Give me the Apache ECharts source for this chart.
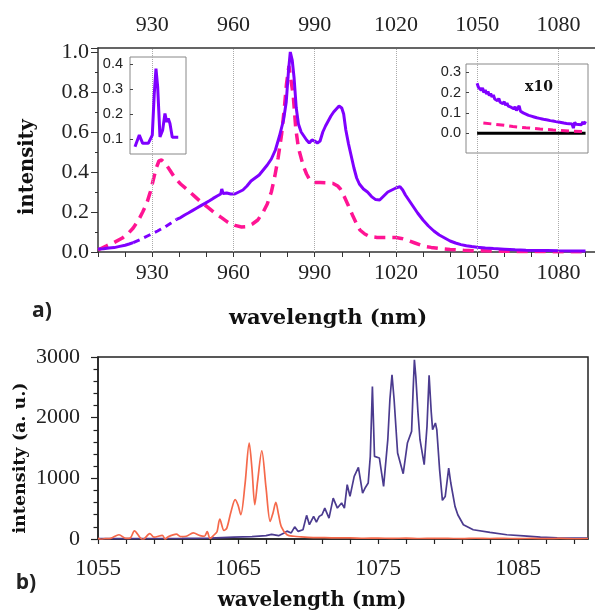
<!DOCTYPE html>
<html><head><meta charset="utf-8">
<script src="https://cdn.jsdelivr.net/npm/echarts/dist/echarts.min.js"></script>
<style>html,body{margin:0;padding:0;background:#fff}#c{width:595px;height:611px}</style>
</head><body><div id="c"></div>
<script>
// ---------- panel a) main spectra (wavelength nm, normalized intensity) ----------
const purpleLow = [[910,0.015],[912,0.016],[914,0.02],[916,0.022],[918,0.028],[920,0.034],[921.5,0.04],[923,0.047]];
const purpleGap = [[923,0.047],[926,0.065],[929,0.085],[932,0.105],[935,0.128],[937,0.145],[939,0.163]];
const purpleMain = [[939,0.163],[940.5,0.172],[942,0.185],[943.5,0.196],[945,0.208],[946.5,0.22],[948,0.232],[949.5,0.243],[951,0.255],[952.5,0.268],[954,0.28],[955.3,0.29],[955.7,0.315],[956.2,0.292],[957.5,0.295],[959,0.29],[960.5,0.29],[962,0.3],[963.5,0.31],[965,0.33],[966.5,0.355],[968,0.37],[969.5,0.385],[971,0.41],[972.5,0.435],[974,0.465],[975.5,0.51],[977,0.58],[978.5,0.66],[979.5,0.75],[980.3,0.9],[981,1.0],[981.7,0.96],[982.4,0.87],[983.2,0.72],[984,0.64],[985,0.6],[986,0.58],[987,0.56],[988,0.545],[989,0.56],[990,0.555],[991,0.545],[992,0.555],[993,0.6],[994,0.63],[995,0.655],[996,0.68],[997,0.7],[998,0.715],[999,0.73],[1000,0.72],[1000.7,0.69],[1001.5,0.61],[1002.5,0.54],[1003.5,0.48],[1004.5,0.42],[1005.5,0.37],[1006.5,0.34],[1008,0.315],[1009.5,0.3],[1011,0.277],[1012.5,0.262],[1014,0.26],[1015.5,0.28],[1017,0.3],[1018.5,0.31],[1020,0.32],[1021.5,0.327],[1022.5,0.31],[1023.5,0.285],[1025,0.255],[1026.5,0.225],[1028,0.195],[1030,0.16],[1032,0.13],[1034,0.105],[1036,0.085],[1038,0.07],[1040,0.055],[1042,0.045],[1044,0.037],[1046,0.031],[1048,0.027],[1050,0.024],[1053,0.02],[1056,0.017],[1060,0.014],[1064,0.011],[1068,0.009],[1072,0.008],[1076,0.007],[1080,0.006],[1085,0.005],[1090,0.005]];
const pinkMain = [[910,0.01],[913,0.03],[916,0.048],[919,0.07],[921.2,0.093],[923,0.12],[925,0.16],[926.5,0.2],[928,0.243],[929.3,0.3],[930.4,0.36],[931.5,0.42],[932.5,0.455],[933.5,0.46],[934.7,0.445],[936.5,0.41],[938.4,0.37],[940.5,0.34],[942.7,0.315],[945.8,0.277],[948,0.25],[950.7,0.222],[953,0.196],[955.6,0.172],[958,0.148],[960.6,0.133],[963,0.125],[965,0.127],[967,0.14],[969,0.16],[971,0.2],[972.5,0.24],[974,0.3],[975.3,0.38],[976.5,0.47],[977.8,0.59],[978.8,0.72],[979.6,0.84],[980.5,0.93],[981.2,0.94],[982.1,0.78],[983,0.62],[984,0.52],[985.8,0.43],[987,0.39],[988.2,0.36],[990,0.348],[992,0.347],[994,0.346],[996.8,0.343],[998.5,0.33],[999.5,0.315],[1001,0.275],[1002.5,0.23],[1004.2,0.177],[1005.5,0.14],[1006.7,0.11],[1008.5,0.09],[1010.4,0.077],[1013,0.073],[1016,0.072],[1020,0.072],[1022,0.068],[1024,0.06],[1027,0.045],[1030,0.03],[1033,0.023],[1036,0.018],[1040,0.013],[1045,0.009],[1050,0.006],[1055,0.005],[1060,0.0035],[1065,0.003],[1070,0.0025],[1075,0.002],[1080,0.0015],[1085,0.001],[1090,0.001]];
const gridTicksA = [930, 960, 990, 1020, 1050, 1080];

// ---------- inset (left): measured spectrum in the 923-940 nm region ----------
const insetLeftPurple = [[923.65,0.069],[925.24,0.116],[926.49,0.083],[928.56,0.083],[930.04,0.116],[930.77,0.283],[931.4,0.383],[932.03,0.31],[932.88,0.109],[933.87,0.136],[934.72,0.203],[935.35,0.169],[935.94,0.183],[936.57,0.163],[937.42,0.107],[939.63,0.107]];

// ---------- inset (right): x10 tail 1050-1090 nm ----------
const insetRightPurple = [[1050,0.245],[1050.5,0.225],[1051,0.232],[1051.5,0.212],[1052,0.222],[1052.5,0.2],[1053,0.212],[1053.5,0.193],[1054,0.205],[1054.5,0.185],[1055,0.195],[1055.5,0.178],[1056,0.188],[1056.5,0.168],[1057,0.177],[1057.5,0.16],[1058,0.17],[1058.5,0.152],[1059,0.16],[1059.5,0.145],[1060,0.155],[1060.5,0.138],[1061,0.148],[1061.5,0.133],[1062,0.142],[1062.5,0.128],[1063,0.137],[1063.5,0.12],[1064,0.13],[1064.5,0.112],[1065,0.122],[1065.5,0.135],[1066,0.108],[1066.5,0.115],[1067,0.1],[1067.5,0.108],[1068,0.094],[1068.5,0.102],[1069,0.088],[1069.5,0.097],[1070,0.084],[1070.5,0.092],[1071,0.08],[1071.5,0.088],[1072,0.076],[1072.5,0.085],[1073,0.073],[1073.5,0.081],[1074,0.07],[1074.5,0.079],[1075,0.067],[1075.5,0.076],[1076,0.065],[1076.5,0.073],[1077,0.062],[1077.5,0.071],[1078,0.06],[1078.5,0.068],[1079,0.057],[1079.5,0.066],[1080,0.055],[1080.5,0.063],[1081,0.053],[1081.5,0.061],[1082,0.05],[1082.5,0.059],[1083,0.048],[1083.5,0.057],[1084,0.047],[1084.5,0.056],[1085,0.046],[1085.5,0.025],[1086,0.054],[1086.5,0.044],[1087,0.053],[1087.5,0.043],[1088,0.052],[1088.5,0.042],[1089,0.055],[1089.5,0.045],[1090,0.058]];
const insetRightPink = [[1052.3,0.05],[1056,0.045],[1060,0.039],[1063.2,0.033],[1068,0.027],[1073.2,0.021],[1078,0.016],[1084.3,0.011],[1090,0.008]];
const insetRightBase = [[1050,0],[1090,0]];

// ---------- panel b) (wavelength nm, intensity a.u.) ----------
const orangeB = [[1055,10],[1055.2,-5],[1055.5,5],[1055.9,10],[1056.5,70],[1057,10],[1057.3,15],[1057.6,135],[1058,25],[1058.2,-10],[1058.7,88],[1059,30],[1059.6,60],[1059.8,-5],[1060,35],[1060.6,80],[1060.9,40],[1061.3,45],[1061.8,100],[1062.3,55],[1062.6,45],[1062.8,120],[1063,10],[1063.3,70],[1063.5,120],[1063.7,330],[1064,140],[1064.2,180],[1064.5,450],[1064.8,650],[1065,560],[1065.2,400],[1065.5,900],[1065.8,1580],[1066,1150],[1066.2,565],[1066.4,950],[1066.7,1455],[1067,850],[1067.3,290],[1067.5,430],[1067.7,603],[1067.9,400],[1068.1,200],[1068.5,70],[1069,45],[1069.5,35],[1070,28],[1071,22],[1072,18],[1073,20],[1074,12],[1075,15],[1076,10],[1077,14],[1078,8],[1079,12],[1080,10],[1081,6],[1082,12],[1083,8],[1084,10],[1085,6],[1086,10],[1087,5],[1088,9],[1089,4],[1090,8]];
const navyB = [[1055,5],[1057,6],[1059,8],[1061,10],[1063,15],[1064.7,30],[1066,40],[1067,55],[1067.4,75],[1067.9,55],[1068.3,100],[1068.5,130],[1068.8,100],[1069.05,200],[1069.3,125],[1069.64,153],[1069.9,390],[1070.1,235],[1070.4,373],[1070.6,280],[1070.8,373],[1071,400],[1071.2,510],[1071.5,345],[1071.8,675],[1072.1,510],[1072.4,593],[1072.6,510],[1072.8,895],[1073,702],[1073.3,1032],[1073.6,1180],[1073.9,758],[1074.1,850],[1074.3,923],[1074.45,1362],[1074.6,2515],[1074.75,1362],[1075.1,1335],[1075.4,867],[1075.7,1637],[1075.85,2300],[1076,2708],[1076.15,2300],[1076.4,1417],[1076.8,1076],[1077.1,1582],[1077.4,1774],[1077.5,2400],[1077.6,2955],[1077.7,2680],[1077.85,2100],[1078,1637],[1078.3,1225],[1078.5,1857],[1078.65,2697],[1078.8,2100],[1078.9,1802],[1079.1,1912],[1079.2,1802],[1079.4,1143],[1079.6,637],[1079.8,700],[1080.05,1170],[1080.2,923],[1080.5,538],[1080.7,400],[1081.1,235],[1081.8,153],[1083,110],[1084.2,70],[1085.4,50],[1086.6,30],[1087.8,20],[1089.7,15],[1090,15]];

const SERIF = '"Liberation Serif", "Times New Roman", serif';
const PURPLE = '#7f00ff', PINK = '#ff1493', ORANGE = '#f5694b', NAVY = '#4b3b8f';
const axisCol = '#333';

const chart = echarts.init(document.getElementById('c'), null, {renderer: 'canvas'});
const lab30 = v => (Math.round(v) % 30 === 0 && v < 1090.5) ? String(Math.round(v)) : '';
const labB = v => (Math.round(v - 1055) % 10 === 0 && v < 1089.5) ? String(Math.round(v)) : '';

chart.setOption({
  animation: false,
  backgroundColor: '#fff',
  grid: [
    {left: 98, top: 48, right: 0, height: 204},
    {left: 130, top: 57, width: 56, height: 97, show: true, borderColor: '#888', borderWidth: 1, backgroundColor: 'transparent'},
    {left: 466, top: 64, width: 122, height: 89, show: true, borderColor: '#888', borderWidth: 1, backgroundColor: 'transparent'},
    {left: 98, top: 357, width: 490, height: 182, show: true, borderColor: '#222', borderWidth: 1.5, backgroundColor: 'transparent'}
  ],
  xAxis: [
    {type: 'value', gridIndex: 0, position: 'bottom', min: 910, max: 1093.5, interval: 10,
     axisLine: {show: true, onZero: false, lineStyle: {color: axisCol, width: 1.5}},
     axisTick: {show: true, length: 5, lineStyle: {color: axisCol}},
     axisLabel: {formatter: lab30, fontFamily: SERIF, fontSize: 22, color: '#222', margin: 10, showMaxLabel: false},
     splitLine: {show: false}},
    {type: 'value', gridIndex: 0, position: 'top', min: 910, max: 1093.5, interval: 10,
     axisLine: {show: true, onZero: false, lineStyle: {color: axisCol, width: 1.5}},
     axisTick: {show: false},
     axisLabel: {formatter: lab30, fontFamily: SERIF, fontSize: 22, color: '#222', margin: 12, showMaxLabel: false},
     splitLine: {show: false}},
    {type: 'value', gridIndex: 1, min: 921.8, max: 942.5, show: false},
    {type: 'value', gridIndex: 2, min: 1045.9, max: 1090.9, show: false},
    {type: 'value', gridIndex: 3, position: 'bottom', min: 1055, max: 1090, interval: 2,
     axisLine: {show: true, onZero: false, lineStyle: {color: '#222', width: 1.5}},
     axisTick: {show: true, length: 5, lineStyle: {color: '#222', width: 1.2}},
     axisLabel: {formatter: labB, fontFamily: SERIF, fontSize: 23, color: '#222', margin: 18, showMaxLabel: false},
     splitLine: {show: false}}
  ],
  yAxis: [
    {type: 'value', gridIndex: 0, min: 0, max: 1.02, interval: 0.2,
     axisLine: {show: true, onZero: false, lineStyle: {color: axisCol, width: 1.5}},
     axisTick: {show: true, length: 7, lineStyle: {color: axisCol}},
     minorTick: {show: true, splitNumber: 2, length: 3, lineStyle: {color: axisCol}},
     axisLabel: {formatter: v => v > 1.01 ? '' : v.toFixed(1), fontFamily: SERIF, fontSize: 22, color: '#222', margin: 9, showMaxLabel: false},
     splitLine: {show: false}},
    {type: 'value', gridIndex: 1, min: 0.04, max: 0.43,
     axisLine: {show: false}, axisTick: {show: true, inside: true, length: 3, lineStyle: {color: '#444'}},
     axisLabel: {formatter: v => v.toFixed(1), fontFamily: '"Liberation Sans", Arial, sans-serif', fontSize: 14.5, color: '#222', margin: 7, showMinLabel: false, showMaxLabel: false},
     splitLine: {show: false}},
    {type: 'value', gridIndex: 2, min: -0.097, max: 0.34,
     axisLine: {show: false}, axisTick: {show: true, inside: true, length: 3, lineStyle: {color: '#444'}},
     axisLabel: {formatter: v => v.toFixed(1), fontFamily: '"Liberation Sans", Arial, sans-serif', fontSize: 14.5, color: '#222', margin: 5, showMinLabel: false, showMaxLabel: false},
     splitLine: {show: false}},
    {type: 'value', gridIndex: 3, min: 0, max: 3000, interval: 1000,
     axisLine: {show: true, onZero: false, lineStyle: {color: '#222', width: 1.5}},
     axisTick: {show: true, length: 7, lineStyle: {color: '#222', width: 1.2}},
     minorTick: {show: true, splitNumber: 5, length: 4.5, lineStyle: {color: '#222', width: 1.2}},
     axisLabel: {formatter: v => String(Math.round(v)), fontFamily: SERIF, fontSize: 22, color: '#222', margin: 18},
     splitLine: {show: false}}
  ],
  series: [
    {type: 'line', xAxisIndex: 0, yAxisIndex: 0, data: [], z: 1, silent: true,
     markLine: {silent: true, symbol: 'none', label: {show: false},
       lineStyle: {type: 'dotted', color: '#aaa', width: 1},
       data: gridTicksA.map(v => ({xAxis: v}))}},
    {type: 'line', name: 'pink', xAxisIndex: 0, yAxisIndex: 0, data: pinkMain, showSymbol: false, z: 3,
     lineStyle: {color: PINK, width: 3.5, type: [11, 7]}},
    {type: 'line', xAxisIndex: 0, yAxisIndex: 0, data: purpleLow, showSymbol: false, z: 4,
     lineStyle: {color: PURPLE, width: 3}},
    {type: 'line', xAxisIndex: 0, yAxisIndex: 0, data: purpleGap, showSymbol: false, z: 4,
     lineStyle: {color: PURPLE, width: 3, type: [7, 5]}},
    {type: 'line', xAxisIndex: 0, yAxisIndex: 0, data: purpleMain, showSymbol: false, z: 4,
     lineStyle: {color: PURPLE, width: 3}},
    {type: 'line', xAxisIndex: 2, yAxisIndex: 1, data: insetLeftPurple, showSymbol: false, z: 5,
     lineStyle: {color: PURPLE, width: 3}},
    {type: 'line', xAxisIndex: 3, yAxisIndex: 2, data: insetRightBase, showSymbol: false, z: 5,
     lineStyle: {color: '#000', width: 3}},
    {type: 'line', xAxisIndex: 3, yAxisIndex: 2, data: insetRightPink, showSymbol: false, z: 5,
     lineStyle: {color: PINK, width: 3, type: [8, 5]}},
    {type: 'line', xAxisIndex: 3, yAxisIndex: 2, data: insetRightPurple, showSymbol: false, z: 6,
     lineStyle: {color: PURPLE, width: 3}},
    {type: 'line', xAxisIndex: 4, yAxisIndex: 3, data: navyB, showSymbol: false, z: 3,
     lineStyle: {color: NAVY, width: 1.7}},
    {type: 'line', xAxisIndex: 4, yAxisIndex: 3, data: orangeB, showSymbol: false, z: 4, smooth: 0.3,
     lineStyle: {color: ORANGE, width: 1.7}}
  ],
  graphic: [
    {type: 'text', x: 27.5, y: 167, rotation: Math.PI / 2,
     style: {text: 'intensity', font: 'bold 19.5px "DejaVu Serif"', fill: '#111', align: 'center', verticalAlign: 'middle'}},
    {type: 'text', x: 328, y: 319,
     style: {text: 'wavelength (nm)', font: 'bold 21px "DejaVu Serif"', fill: '#111', align: 'center', verticalAlign: 'middle'}},
    {type: 'text', x: 42, y: 311,
     style: {text: 'a)', font: 'bold 21px "Open Sans"', fill: '#222', align: 'center', verticalAlign: 'middle'}},
    {type: 'text', x: 539, y: 87,
     style: {text: 'x10', font: 'bold 14px "DejaVu Serif"', fill: '#111', align: 'center', verticalAlign: 'middle'}},
    {type: 'text', x: 20, y: 458, rotation: Math.PI / 2,
     style: {text: 'intensity (a. u.)', font: 'bold 17.5px "DejaVu Serif"', fill: '#111', align: 'center', verticalAlign: 'middle'}},
    {type: 'text', x: 312, y: 601,
     style: {text: 'wavelength (nm)', font: 'bold 20px "DejaVu Serif"', fill: '#111', align: 'center', verticalAlign: 'middle'}},
    {type: 'text', x: 26, y: 583,
     style: {text: 'b)', font: 'bold 21px "Open Sans"', fill: '#222', align: 'center', verticalAlign: 'middle'}}
  ]
});
</script></body></html>
